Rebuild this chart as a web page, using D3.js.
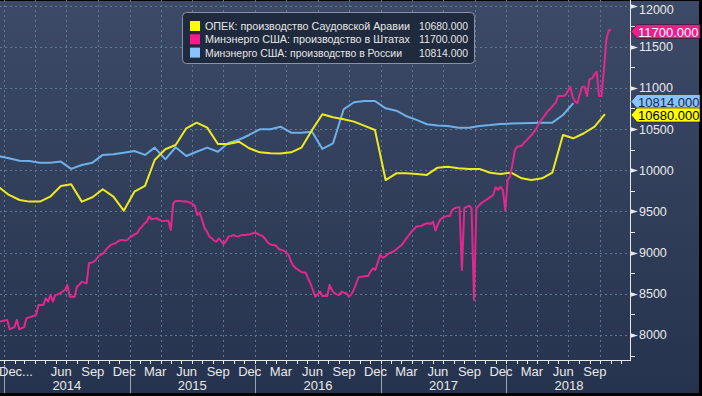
<!DOCTYPE html>
<html>
<head>
<meta charset="utf-8">
<script src="https://cdn.jsdelivr.net/npm/d3@7"></script>
<style>
  body { margin: 0; background: #000; }
  svg { display: block; font-family: "Liberation Sans", Arial, sans-serif; }
</style>
</head>
<body>
<svg id="chart" width="702" height="396"></svg>
<script>
// monthly series start Dec 2013, weekly US series starts 20 Dec 2013
var saudi = [9800,
  9700, 9639, 9619, 9619, 9679, 9809, 9830, 9619, 9672, 9769, 9679, 9509,
  9740, 9809, 10124, 10255, 10306, 10509, 10578, 10517, 10319, 10319, 10347, 10267,
  10217, 10205, 10202, 10217, 10274, 10489, 10680, 10643, 10618, 10590, 10538, 10489,
  9881, 9963, 9963, 9955, 9943, 10031, 10042, 10024, 10016, 10016, 9970, 9955,
  9970, 9902, 9881, 9902, 9970, 10428, 10388, 10449, 10529, 10680];

var russia = [10173,
  10145, 10116, 10113, 10092, 10092, 10105, 10016, 10064, 10092, 10186, 10194, 10213,
  10234, 10186, 10275, 10133, 10279, 10173, 10225, 10275, 10225, 10331, 10370, 10428,
  10497, 10497, 10529, 10456, 10456, 10468, 10258, 10327, 10740, 10825, 10841, 10841,
  10752, 10723, 10659, 10611, 10558, 10543, 10538, 10517, 10517, 10537, 10548, 10562,
  10566, 10570, 10573, 10576, 10578, 10671, 10814];

var usa = [
  8162, 8169, 8177, 8183, 8069, 8083, 8094, 8183, 8069, 8083,
  8094, 8204, 8211, 8222, 8231, 8243, 8365, 8365, 8365, 8446,
  8404, 8486, 8404, 8486, 8493, 8507, 8528, 8546, 8608, 8465,
  8465, 8465, 8587, 8612, 8647, 8636, 8627, 8871, 8878, 8890,
  8918, 8959, 8977, 8992, 9033, 9066, 9093, 9106, 9114, 9135,
  9150, 9154, 9145, 9154, 9185, 9203, 9224, 9235, 9284, 9316,
  9353, 9376, 9438, 9405, 9412, 9417, 9402, 9388, 9382, 9388,
  9388, 9275, 9600, 9626, 9626, 9626, 9620, 9624, 9615, 9607,
  9590, 9570, 9456, 9485, 9396, 9303, 9255, 9195, 9174, 9145,
  9133, 9174, 9135, 9105, 9145, 9194, 9200, 9214, 9200, 9194,
  9209, 9214, 9214, 9219, 9224, 9234, 9242, 9229, 9214, 9203,
  9175, 9133, 9106, 9093, 9093, 9076, 9040, 9032, 9024, 8997,
  8971, 8888, 8838, 8809, 8790, 8770, 8757, 8757, 8691, 8627,
  8552, 8465, 8493, 8527, 8474, 8474, 8474, 8608, 8542, 8507,
  8493, 8486, 8527, 8513, 8507, 8465, 8493, 8546, 8622, 8701,
  8706, 8710, 8716, 8716, 8770, 8810, 8790, 8878, 8971, 8938,
  8948, 8977, 8997, 9007, 9022, 9046, 9071, 9093, 9135, 9175,
  9214, 9254, 9284, 9313, 9319, 9323, 9338, 9353, 9356, 9348,
  9376, 9267, 9343, 9402, 9422, 9437, 9445, 9445, 9518, 9538,
  9550, 9550, 8790, 9540, 9555, 9570, 9538, 8425, 9538, 9570,
  9599, 9620, 9639, 9659, 9679, 9700, 9793, 9761, 9800, 9761,
  9509, 9881, 9922, 10074, 10246, 10287, 10291, 10301, 10341, 10368,
  10400, 10428, 10469, 10509, 10568, 10611, 10647, 10692, 10726, 10756,
  10792, 10820, 10901, 10901, 10901, 10910, 10963, 11014, 10893, 10835,
  10813, 10926, 11014, 11014, 10901, 11104, 11112, 11161, 11197, 10901,
  10901, 11215, 11580, 11700, 11700];

var seriesNames = ["ОПЕК: производство Саудовской Аравии",
                   "Минэнерго США: производство в Штатах",
                   "Минэнерго США: производство в России"];
var lastValues = ["10680.000", "11700.000", "10814.000"];
var yTicks = [8000, 8500, 9000, 9500, 10000, 10500, 11000, 11500, 12000];
var monthLabels = ["2014-06", "2014-09", "2014-12",
  "2015-03", "2015-06", "2015-09", "2015-12",
  "2016-03", "2016-06", "2016-09", "2016-12",
  "2017-03", "2017-06", "2017-09", "2017-12",
  "2018-03", "2018-06", "2018-09"];
var yearLabels = ["2014", "2015", "2016", "2017", "2018"];

var W = 630, H = 360;
var svg = d3.select("#chart");

var defs = svg.append("defs");
var grad = defs.append("linearGradient")
    .attr("id", "bg")
    .attr("x1", 0).attr("y1", 0).attr("x2", 0).attr("y2", 1);
grad.append("stop").attr("offset", "0%").attr("stop-color", "#3c4a67");
grad.append("stop").attr("offset", "100%").attr("stop-color", "#26334e");
defs.append("clipPath").attr("id", "clip")
  .append("rect").attr("width", W).attr("height", H);

svg.append("rect")
    .attr("x", 0).attr("y", 1)
    .attr("width", 699).attr("height", 392)
    .attr("fill", "url(#bg)");

var x = d3.scaleTime()
    .domain([new Date(2013, 11, 20), new Date(2018, 11, 27)])
    .range([0, W]);
var y = d3.scaleLinear()
    .domain([7696, 12067])
    .range([H, 0]);

var monthDate = function(i) { return new Date(2013, 11 + i, 15); };
var weekDate = function(i) { return d3.timeDay.offset(new Date(2013, 11, 20), 7 * i); };

// grid
var grid = svg.append("g");
grid.selectAll(".hg")
    .data(yTicks)
  .enter().append("line")
    .attr("x1", 0).attr("x2", W)
    .attr("y1", function(d) { return Math.round(y(d)) + 0.5; })
    .attr("y2", function(d) { return Math.round(y(d)) + 0.5; })
    .attr("stroke", "#5d7896")
    .attr("stroke-dasharray", "2,3");

var quarters = d3.timeMonth.every(3).range(new Date(2014, 0, 1), new Date(2019, 0, 1));
grid.selectAll(".vg")
    .data(quarters)
  .enter().append("line")
    .attr("x1", function(d) { return Math.round(x(d)) + 0.5; })
    .attr("x2", function(d) { return Math.round(x(d)) + 0.5; })
    .attr("y1", 0).attr("y2", H)
    .attr("stroke", "#5d7896")
    .attr("stroke-dasharray", "2,3");

// lines
var plot = svg.append("g").attr("clip-path", "url(#clip)");

var lineMonth = d3.line()
    .x(function(d, i) { return x(monthDate(i)); })
    .y(function(d) { return y(d); });
var lineWeek = d3.line()
    .x(function(d, i) { return x(weekDate(i)); })
    .y(function(d) { return y(d); });

plot.append("path").datum(russia)
    .attr("d", lineMonth)
    .attr("fill", "none").attr("stroke", "#6eb0ea").attr("stroke-width", 2)
    .attr("stroke-linejoin", "round");
plot.append("path").datum(saudi)
    .attr("d", lineMonth)
    .attr("fill", "none").attr("stroke", "#eeea1f").attr("stroke-width", 2)
    .attr("stroke-linejoin", "round");
plot.append("path").datum(usa)
    .attr("d", lineWeek)
    .attr("fill", "none").attr("stroke", "#e2288c").attr("stroke-width", 2)
    .attr("stroke-linejoin", "round");

// right axis
var axisCol = "#e8e8e8";
svg.append("line")
    .attr("x1", W + 0.5).attr("x2", W + 0.5)
    .attr("y1", 0).attr("y2", H + 1)
    .attr("stroke", axisCol);
svg.append("line")
    .attr("x1", 0).attr("x2", W + 1)
    .attr("y1", H + 0.5).attr("y2", H + 0.5)
    .attr("stroke", axisCol);

var minor = d3.range(7750, 12001, 500);
svg.selectAll(".ymin")
    .data(minor)
  .enter().append("line")
    .attr("x1", W).attr("x2", W + 5)
    .attr("y1", function(d) { return Math.round(y(d)) + 0.5; })
    .attr("y2", function(d) { return Math.round(y(d)) + 0.5; })
    .attr("stroke", axisCol);

svg.selectAll(".ymaj")
    .data(yTicks)
  .enter().append("path")
    .attr("d", function(d) {
      var yy = Math.round(y(d)) + 0.5;
      return "M" + W + "," + (yy - 2.5) + "L" + (W + 8) + "," + yy + "L" + W + "," + (yy + 2.5) + "Z";
    })
    .attr("fill", axisCol);

svg.selectAll(".ylab")
    .data(yTicks)
  .enter().append("text")
    .attr("x", W + 9)
    .attr("y", function(d) { return Math.max(y(d), 9) + 4.5; })
    .attr("font-size", 12.5)
    .attr("fill", axisCol)
    .text(function(d) { return d; });

// value tags on the axis
var tags = [
  { label: lastValues[1], fill: "#ec1e8c", text: "#ffffff", yy: 31.5 },
  { label: lastValues[2], fill: "#88c4ff", text: "#1c2a44", yy: 101.5 },
  { label: lastValues[0], fill: "#ffff00", text: "#000000", yy: 115 }
];
var tg = svg.selectAll(".tag")
    .data(tags)
  .enter().append("g");
tg.append("path")
    .attr("d", function(d) {
      return "M" + (W + 1) + "," + d.yy + "L" + (W + 7) + "," + (d.yy - 7) +
        "L700," + (d.yy - 7) + "L700," + (d.yy + 7) + "L" + (W + 7) + "," + (d.yy + 7) + "Z";
    })
    .attr("fill", function(d) { return d.fill; })
    .attr("stroke", "#1a1a1a")
    .attr("stroke-width", 0.6);
tg.append("text")
    .attr("x", W + 8)
    .attr("y", function(d) { return d.yy + 5; })
    .attr("font-size", 13)
    .attr("fill", function(d) { return d.text; })
    .text(function(d) { return d.label; });

// bottom axis
var months = d3.timeMonth.range(new Date(2014, 0, 1), new Date(2019, 0, 1));
svg.selectAll(".mt")
    .data(months)
  .enter().append("line")
    .attr("x1", function(d) { return Math.round(x(d)) + 0.5; })
    .attr("x2", function(d) { return Math.round(x(d)) + 0.5; })
    .attr("y1", H).attr("y2", H + 4)
    .attr("stroke", axisCol);

var years = yearLabels.map(function(s) { return new Date(+s, 0, 1); });
svg.selectAll(".ysep")
    .data(years)
  .enter().append("line")
    .attr("x1", function(d) { return Math.round(x(d)) + 0.5; })
    .attr("x2", function(d) { return Math.round(x(d)) + 0.5; })
    .attr("y1", H + 5).attr("y2", 393)
    .attr("stroke", "#9aa3b2");

var parseM = d3.timeParse("%Y-%m");
var fmtM = d3.timeFormat("%b");
svg.selectAll(".ml")
    .data(monthLabels)
  .enter().append("text")
    .attr("x", function(d) {
      var m = parseM(d);
      return (x(m) + x(d3.timeMonth.offset(m, 1))) / 2;
    })
    .attr("y", H + 16)
    .attr("text-anchor", "middle")
    .attr("font-size", 13)
    .attr("fill", axisCol)
    .text(function(d) { return fmtM(parseM(d)); });

svg.append("text")
    .attr("x", -1).attr("y", H + 16)
    .attr("font-size", 13)
    .attr("fill", axisCol)
    .text("Dec...");

svg.selectAll(".yl")
    .data(years)
  .enter().append("text")
    .attr("x", function(d) { return (x(d) + x(d3.timeYear.offset(d, 1))) / 2; })
    .attr("y", 390)
    .attr("text-anchor", "middle")
    .attr("font-size", 13)
    .attr("fill", axisCol)
    .text(function(d) { return d.getFullYear(); });

// legend
var leg = svg.append("g");
leg.append("rect")
    .attr("x", 182.5).attr("y", 12.5)
    .attr("width", 292).attr("height", 51)
    .attr("rx", 4)
    .attr("fill", "#1f2a3e")
    .attr("stroke", "#8b93a3");
var legCols = ["#ffff00", "#ff1a8c", "#88c4ff"];
var nameWidths = [205, 205, 197];
var rows = leg.selectAll(".lr")
    .data(seriesNames)
  .enter().append("g")
    .attr("transform", function(d, i) { return "translate(0," + (26 + i * 13.3) + ")"; });
rows.append("rect")
    .attr("x", 190).attr("y", -5)
    .attr("width", 10).attr("height", 10)
    .attr("fill", function(d, i) { return legCols[i]; });
rows.append("text")
    .attr("x", 205).attr("y", 4)
    .attr("font-size", 10.5)
    .attr("textLength", function(d, i) { return nameWidths[i]; })
    .attr("lengthAdjust", "spacingAndGlyphs")
    .attr("fill", "#e6e6e6")
    .text(function(d) { return d; });
rows.append("text")
    .attr("x", 419).attr("y", 4)
    .attr("font-size", 10.5)
    .attr("textLength", 49)
    .attr("lengthAdjust", "spacingAndGlyphs")
    .attr("fill", "#e6e6e6")
    .text(function(d, i) { return lastValues[i]; });
</script>
</body>
</html>
